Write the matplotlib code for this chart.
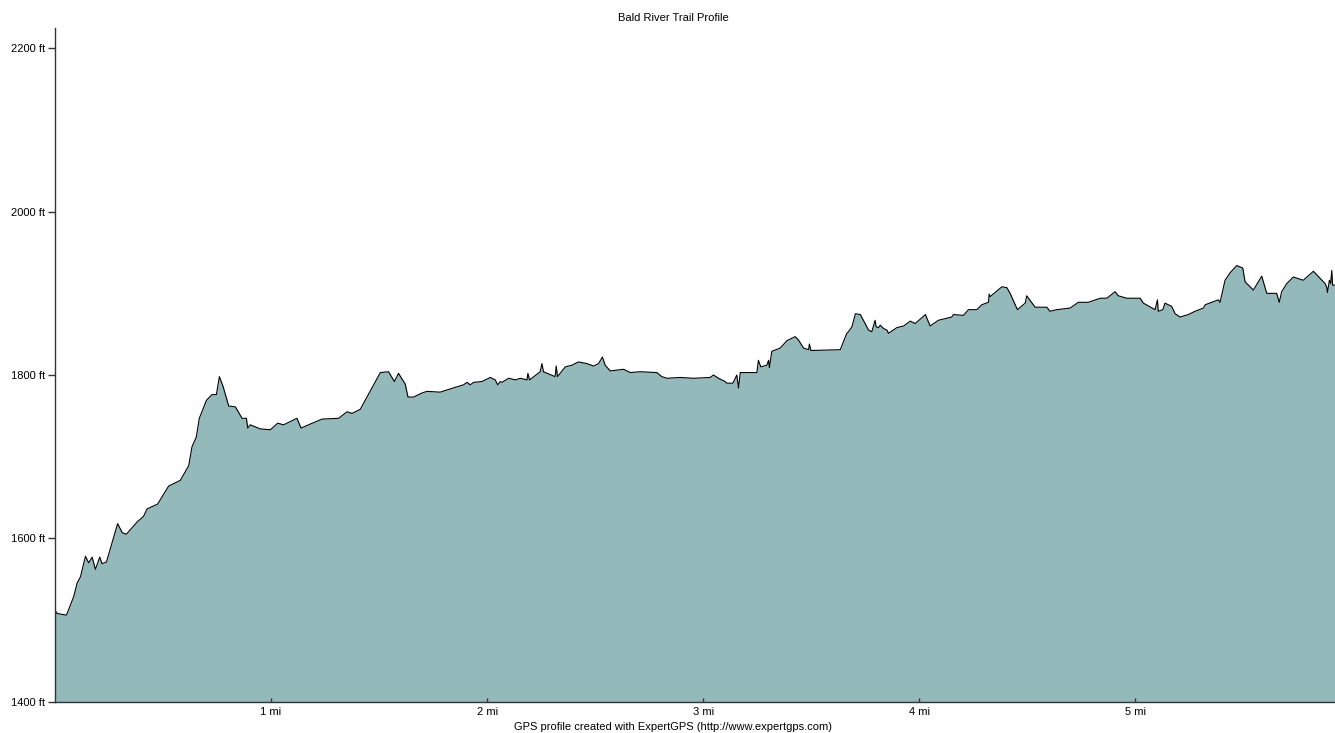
import matplotlib
matplotlib.use("Agg")
import matplotlib.pyplot as plt

title = "Bald River Trail Profile"
footer = "GPS profile created with ExpertGPS (http://www.expertgps.com)"

dist_mi = [0.000, 0.010, 0.053, 0.087, 0.102, 0.118, 0.141, 0.156, 0.172, 0.187,
           0.207, 0.218, 0.238, 0.290, 0.311, 0.330, 0.380, 0.410, 0.426, 0.475,
           0.526, 0.580, 0.619, 0.634, 0.654, 0.668, 0.701, 0.727, 0.747, 0.761,
           0.778, 0.804, 0.835, 0.866, 0.886, 0.892, 0.904, 0.950, 0.997, 1.031,
           1.058, 1.120, 1.139, 1.182, 1.236, 1.313, 1.352, 1.375, 1.413, 1.506,
           1.544, 1.571, 1.590, 1.621, 1.634, 1.660, 1.699, 1.722, 1.783, 1.830,
           1.891, 1.907, 1.922, 1.938, 1.976, 2.015, 2.038, 2.049, 2.061, 2.069,
           2.100, 2.131, 2.154, 2.185, 2.189, 2.197, 2.246, 2.254, 2.261, 2.315,
           2.320, 2.326, 2.362, 2.393, 2.423, 2.462, 2.493, 2.516, 2.534, 2.547,
           2.570, 2.632, 2.663, 2.709, 2.786, 2.809, 2.833, 2.894, 2.956, 3.033,
           3.048, 3.071, 3.102, 3.110, 3.138, 3.156, 3.164, 3.172, 3.249, 3.256,
           3.267, 3.295, 3.303, 3.307, 3.318, 3.357, 3.388, 3.426, 3.441, 3.465,
           3.488, 3.492, 3.499, 3.635, 3.665, 3.673, 3.689, 3.705, 3.728, 3.742,
           3.766, 3.781, 3.796, 3.801, 3.812, 3.820, 3.835, 3.851, 3.858, 3.897,
           3.928, 3.959, 3.982, 4.029, 4.051, 4.089, 4.151, 4.159, 4.205, 4.228,
           4.267, 4.290, 4.321, 4.324, 4.329, 4.383, 4.406, 4.421, 4.455, 4.491,
           4.498, 4.537, 4.591, 4.606, 4.637, 4.699, 4.737, 4.783, 4.838, 4.869,
           4.907, 4.922, 4.961, 5.023, 5.038, 5.092, 5.103, 5.107, 5.128, 5.138,
           5.169, 5.185, 5.208, 5.246, 5.277, 5.316, 5.324, 5.385, 5.393, 5.416,
           5.439, 5.470, 5.498, 5.509, 5.547, 5.586, 5.609, 5.655, 5.667, 5.678,
           5.702, 5.732, 5.755, 5.778, 5.825, 5.879, 5.887, 5.890, 5.899, 5.905,
           5.910, 5.914, 5.925]

elev_ft = [1512, 1508, 1506, 1529, 1545, 1553, 1578, 1570, 1577, 1562,
           1577, 1569, 1571, 1618, 1607, 1605, 1620, 1627, 1636, 1642,
           1664, 1671, 1689, 1712, 1724, 1747, 1769, 1776, 1776, 1798,
           1786, 1762, 1761, 1747, 1747, 1735, 1739, 1734, 1733, 1741,
           1739, 1747, 1735, 1740, 1746, 1747, 1755, 1753, 1758, 1803,
           1804, 1792, 1802, 1789, 1773, 1773, 1778, 1780, 1779, 1783,
           1788, 1791, 1788, 1791, 1792, 1797, 1794, 1788, 1792, 1791,
           1796, 1794, 1796, 1794, 1802, 1794, 1804, 1814, 1804, 1798,
           1811, 1798, 1810, 1812, 1816, 1814, 1811, 1814, 1822, 1812,
           1805, 1807, 1803, 1804, 1803, 1798, 1796, 1797, 1796, 1797,
           1800, 1796, 1792, 1790, 1790, 1800, 1784, 1803, 1803, 1818,
           1810, 1812, 1818, 1809, 1829, 1833, 1842, 1847, 1843, 1833,
           1831, 1838, 1830, 1831, 1851, 1853, 1859, 1875, 1874, 1867,
           1855, 1853, 1867, 1859, 1858, 1861, 1857, 1855, 1851, 1858,
           1860, 1866, 1863, 1874, 1860, 1867, 1871, 1874, 1873, 1880,
           1880, 1886, 1889, 1899, 1896, 1908, 1907, 1900, 1880, 1888,
           1897, 1883, 1883, 1878, 1880, 1882, 1889, 1889, 1894, 1894,
           1902, 1897, 1894, 1894, 1888, 1880, 1892, 1878, 1880, 1888,
           1884, 1875, 1871, 1874, 1878, 1882, 1886, 1892, 1889, 1916,
           1925, 1934, 1931, 1914, 1904, 1921, 1900, 1900, 1889, 1902,
           1912, 1920, 1918, 1916, 1927, 1912, 1907, 1901, 1916, 1912,
           1928, 1910, 1910]

x_ticks = [1, 2, 3, 4, 5]
x_tick_labels = ["1 mi", "2 mi", "3 mi", "4 mi", "5 mi"]
y_ticks = [1400, 1600, 1800, 2000, 2200]
y_tick_labels = ["1400 ft", "1600 ft", "1800 ft", "2000 ft", "2200 ft"]

plt.rcParams['font.family'] = ['Liberation Sans', 'DejaVu Sans']

fig = plt.figure(figsize=(13.35, 7.33), dpi=100)
ax = fig.add_axes([55/1335, 1 - 701.7/733, 1 - 55/1335, (701.7 - 28.3)/733])

base = 1400
ax.fill_between(dist_mi, elev_ft, base, color='#94B9BA', linewidth=0)
ax.plot(dist_mi, elev_ft, color='black', linewidth=0.8)

ax.set_xlim(0, 5.925)
ax.set_ylim(1400, 2224.5)

ax.spines['top'].set_visible(False)
ax.spines['right'].set_visible(False)
for s in ('left', 'bottom'):
    ax.spines[s].set_color('#333333')
    ax.spines[s].set_linewidth(1.0)
    ax.spines[s].set_zorder(5)

ax.set_xticks(x_ticks)
ax.set_xticklabels(x_tick_labels, fontsize=8)
ax.set_yticks(y_ticks)
ax.set_yticklabels(y_tick_labels, fontsize=8)
ax.tick_params(axis='x', direction='in', length=3, width=1, color='#333333', pad=4)
ax.tick_params(axis='y', direction='out', length=5, width=1, color='#333333', pad=2)

fig.text(673/1335, 1 - 18/733, title, ha='center', va='center', fontsize=8)
fig.text(673/1335, 1 - 727.5/733, footer, ha='center', va='center', fontsize=8)

fig.savefig("out.png", dpi=100)
